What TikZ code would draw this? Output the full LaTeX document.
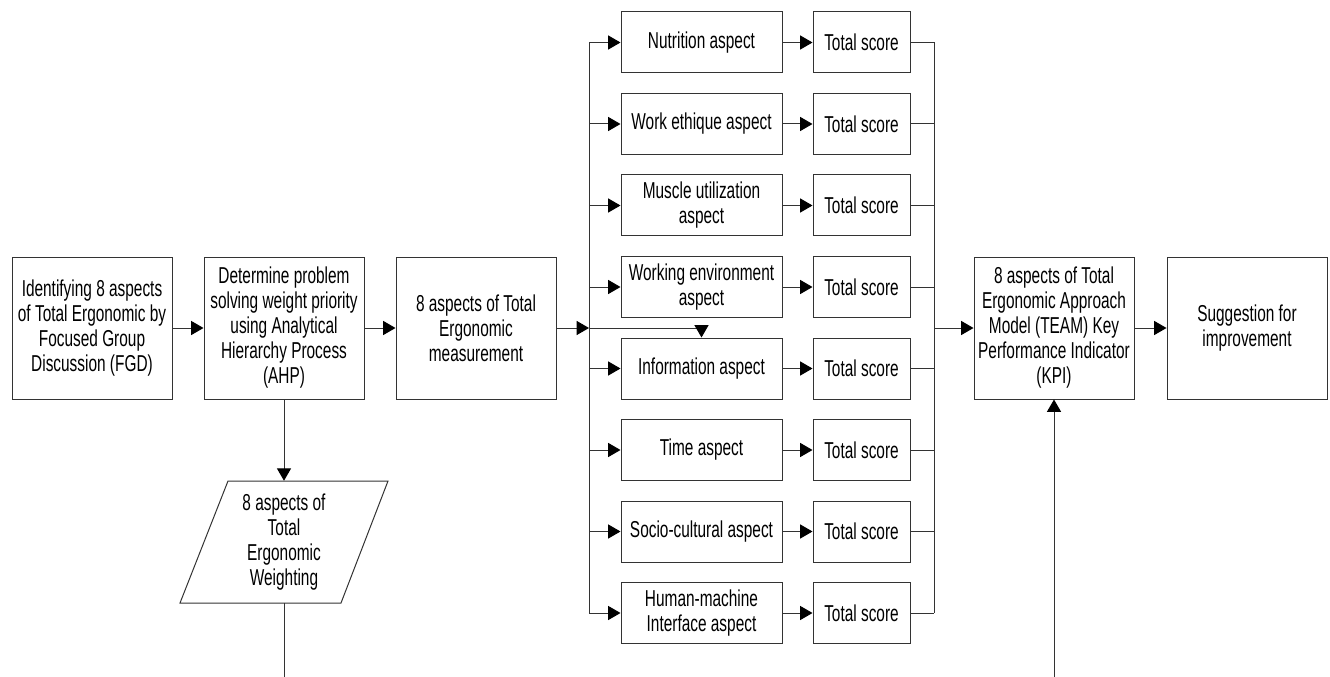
\documentclass[tikz,border=0pt]{standalone}
\usepackage{fontspec}
\setmainfont{Liberation Sans}[FakeStretch=0.67]
\usetikzlibrary{arrows.meta}

\begin{document}
\begin{tikzpicture}[x=0.75pt,y=0.75pt,yscale=-1,xscale=1,
  font=\fontsize{17.25}{18.75}\selectfont,
  box/.style={draw=black!80,line width=0.75pt,align=center,inner sep=0.75pt},
  bigbox/.style={box,minimum width=120pt,minimum height=106.5pt},
  aspbox/.style={box,minimum width=120.75pt,minimum height=45.75pt},
  scorebox/.style={box,minimum width=72.75pt,minimum height=45.75pt},
  line/.style={draw=black!80,line width=0.75pt},
  arr/.style={line,-{Triangle[length=9.25pt,width=10.5pt,color=black]}}]
\useasboundingbox (0,0) rectangle (1330,677);

% main chain
\node[bigbox] (fgd) at (92,328) {Identifying 8 aspects\\of Total Ergonomic by\\Focused Group\\Discussion (FGD)};
\node[bigbox] (ahp) at (284,328) {Determine problem\\solving weight priority\\using Analytical\\Hierarchy Process\\(AHP)};
\node[bigbox] (meas) at (476,328) {8 aspects of Total\\Ergonomic\\measurement};
\node[bigbox] (kpi) at (1054,328) {8 aspects of Total\\Ergonomic Approach\\Model (TEAM) Key\\Performance Indicator\\(KPI)};
\node[bigbox] (sugg) at (1247,328) {Suggestion for\\improvement};

% weighting (parallelogram)
\draw[line] (228,481) -- (388,481) -- (341,603) -- (180,603) -- cycle;
\node[align=center,inner sep=0pt,minimum height=91.5pt] (wgt) at (284,542) {8 aspects of\\Total\\Ergonomic\\Weighting};

\coordinate (busL) at (589,328);
\coordinate (busR) at (934,328);
\coordinate (wgtOut) at (284,677);
\coordinate (kpiIn) at (1054,677);

% aspects and scores
\foreach \i/\txt in {1/Nutrition aspect,2/Work ethique aspect,3/{Muscle utilization\\aspect},
  4/{Working environment\\aspect},5/Information aspect,6/Time aspect,
  7/Socio-cultural aspect,8/{Human-machine\\Interface aspect}}{
  \node[aspbox] (asp\i) at (701.5,{42.5+81.5*(\i-1)}) {\txt};
  \node[scorebox] (tot\i) at (861.5,{42.5+81.5*(\i-1)}) {Total score};
  \draw[arr] (asp\i.west -| busL) -- (asp\i);
  \draw[arr] (asp\i) -- (tot\i);
  \draw[line] (tot\i) -- (tot\i.east -| busR);
}
\draw[line] (asp1.west -| busL) -- (asp8.west -| busL);
\draw[line] (tot1.east -| busR) -- (tot8.east -| busR);

% connectors
\draw[arr] (fgd) -- (ahp);
\draw[arr] (ahp) -- (meas);
\draw[arr] (meas) -- (busL);
\draw[arr] (busL) -| (asp5);
\draw[arr] (busR) -- (kpi);
\draw[arr] (kpi) -- (sugg);
\draw[arr] (ahp) -- (wgt);
\draw[line] (wgt) -- (wgtOut);
\draw[arr] (kpiIn) -- (kpi);

\end{tikzpicture}
\end{document}
